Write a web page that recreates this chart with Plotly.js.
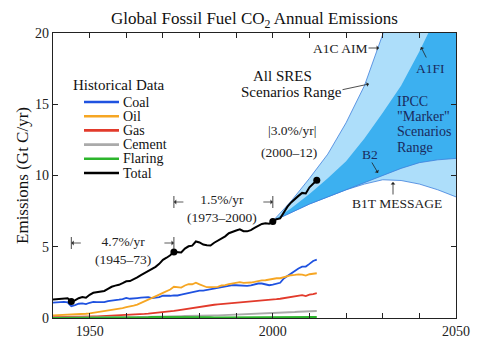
<!DOCTYPE html>
<html><head><meta charset="utf-8">
<script src="https://cdn.plot.ly/plotly-3.0.1.min.js"></script>
<style>html,body{margin:0;padding:0;background:#fff}#chart{width:480px;height:341px}</style>
</head><body><div id="chart"></div>
<script>
// ---------- DATA ----------
const years = [1940,1941,1942,1943,1944,1945,1946,1947,1948,1949,
 1950,1951,1952,1953,1954,1955,1956,1957,1958,1959,
 1960,1961,1962,1963,1964,1965,1966,1967,1968,1969,
 1970,1971,1972,1973,1974,1975,1976,1977,1978,1979,
 1980,1981,1982,1983,1984,1985,1986,1987,1988,1989,
 1990,1991,1992,1993,1994,1995,1996,1997,1998,1999,
 2000,2001,2002,2003,2004,2005,2006,2007,2008,2009,
 2010,2011,2012];
const coal = [1.08,1.10,1.11,1.13,1.10,0.82,0.90,1.00,1.03,0.98,
 1.07,1.13,1.12,1.12,1.11,1.19,1.24,1.27,1.29,1.33,
 1.41,1.35,1.35,1.40,1.43,1.45,1.46,1.40,1.42,1.47,
 1.56,1.54,1.56,1.59,1.58,1.64,1.70,1.75,1.78,1.87,
 1.92,1.92,1.97,2.00,2.09,2.15,2.18,2.22,2.28,2.30,
 2.30,2.28,2.25,2.26,2.29,2.37,2.42,2.42,2.35,2.30,
 2.34,2.40,2.47,2.77,2.96,3.14,3.34,3.48,3.60,3.61,
 3.80,4.00,4.10];
const oil = [0.18,0.19,0.18,0.19,0.21,0.22,0.24,0.26,0.28,0.30,
 0.33,0.37,0.40,0.43,0.46,0.51,0.56,0.60,0.64,0.70,
 0.76,0.80,0.87,0.94,1.05,1.15,1.28,1.40,1.52,1.64,
 1.76,1.87,2.00,2.19,2.16,2.13,2.28,2.37,2.37,2.48,
 2.36,2.24,2.16,2.16,2.19,2.18,2.28,2.30,2.38,2.42,
 2.45,2.51,2.47,2.47,2.49,2.53,2.60,2.64,2.65,2.71,
 2.77,2.79,2.79,2.85,2.96,3.00,3.02,3.06,3.04,2.98,
 3.07,3.10,3.14];
const gas = [0.06,0.06,0.07,0.07,0.08,0.08,0.08,0.09,0.09,0.09,
 0.10,0.11,0.12,0.13,0.14,0.15,0.16,0.18,0.19,0.20,
 0.20,0.21,0.23,0.25,0.27,0.29,0.31,0.33,0.35,0.38,
 0.41,0.44,0.47,0.50,0.54,0.58,0.63,0.68,0.73,0.78,
 0.80,0.82,0.86,0.89,0.93,0.96,0.98,1.02,1.05,1.08,
 1.10,1.12,1.12,1.13,1.14,1.16,1.20,1.20,1.22,1.25,
 1.29,1.32,1.35,1.40,1.44,1.48,1.52,1.56,1.60,1.54,
 1.64,1.68,1.74];
const cement = [0.02,0.02,0.02,0.02,0.02,0.02,0.02,0.02,0.03,0.03,
 0.03,0.03,0.03,0.04,0.04,0.04,0.05,0.05,0.05,0.06,
 0.06,0.06,0.07,0.07,0.08,0.08,0.09,0.09,0.10,0.10,
 0.11,0.12,0.12,0.13,0.13,0.13,0.14,0.15,0.16,0.16,
 0.16,0.16,0.17,0.17,0.18,0.18,0.19,0.19,0.20,0.21,
 0.21,0.22,0.23,0.24,0.25,0.26,0.27,0.28,0.29,0.30,
 0.31,0.32,0.34,0.36,0.38,0.40,0.42,0.44,0.45,0.46,
 0.47,0.48,0.49];
const flaring = [0.01,0.01,0.01,0.01,0.01,0.01,0.01,0.01,0.01,0.01,
 0.02,0.02,0.02,0.02,0.02,0.02,0.03,0.03,0.03,0.03,
 0.04,0.04,0.04,0.05,0.05,0.06,0.06,0.07,0.07,0.08,
 0.09,0.09,0.10,0.11,0.10,0.09,0.10,0.09,0.08,0.08,
 0.07,0.06,0.06,0.06,0.05,0.05,0.05,0.05,0.05,0.05,
 0.05,0.05,0.05,0.05,0.05,0.05,0.06,0.06,0.06,0.06,
 0.06,0.06,0.06,0.06,0.06,0.06,0.06,0.07,0.07,0.07,
 0.07,0.07,0.07];
const total = [1.30,1.33,1.34,1.39,1.38,1.16,1.24,1.39,1.47,1.42,
 1.63,1.77,1.80,1.85,1.90,2.05,2.19,2.27,2.33,2.45,
 2.58,2.59,2.70,2.85,3.01,3.15,3.31,3.41,3.59,3.80,
 4.08,4.23,4.40,4.64,4.62,4.60,4.87,5.03,5.08,5.37,
 5.30,5.15,5.11,5.09,5.28,5.43,5.60,5.73,5.95,6.07,
 6.14,6.22,6.09,6.08,6.17,6.32,6.46,6.60,6.64,6.61,
 6.77,6.93,6.99,7.41,7.81,8.11,8.37,8.57,8.78,8.74,
 9.17,9.45,9.67];
const seriesNames = ['Coal','Oil','Gas','Cement','Flaring','Total'];
const markYears = [1945, 1973, 2000, 2012];

// scenario envelopes
const scenYears   = [2000,2005,2010,2015,2020,2025,2030,2035,2040,2045,2050];
const a1cAim      = [6.8, 8.2, 9.8, 11.5,13.7,16.3,19.9,24.0,28.0,32.0,36.0]; // upper of all SRES
const b1tMessage  = [6.8, 7.4, 8.0, 8.5, 9.0, 9.4, 9.7, 9.65,9.4, 9.0, 8.5];  // lower of all SRES
const a1fi        = [6.8, 7.7, 8.7, 9.8, 11.0,12.6,14.4,16.3,18.7,21.2,24.0]; // upper of markers
const b2          = [6.8, 7.4, 8.0, 8.5, 9.0, 9.5, 10.0,10.5,10.9,11.1,11.2]; // lower of markers

// growth periods
const rateLabels = ['4.7%/yr', '1.5%/yr', '|3.0%/yr|'];
const rateSpans  = ['(1945–73)', '(1973–2000)', '(2000–12)'];

// ---------- STYLE / LAYOUT ----------
const SERIF = '"Liberation Serif", "Times New Roman", Times, serif';
const colors = ['#1f52e0','#f6a623','#e23a2b','#aaaaaa','#2cb52c','#000000'];
const W=480,H=341,M={l:53,r:24,t:33,b:23};
const pw=W-M.l-M.r, ph=H-M.t-M.b;
const PX=(x)=>(x-M.l)/pw, PY=(y)=>(H-M.b-y)/ph;

const edge = '#3d7fdc';
const traces = [
  {x:scenYears,y:b1tMessage,mode:'lines',line:{color:edge,width:0.8},hoverinfo:'skip'},
  {x:scenYears,y:a1cAim,mode:'lines',line:{color:edge,width:0.8},fill:'tonexty',fillcolor:'#addefa',hoverinfo:'skip'},
  {x:scenYears,y:b2,mode:'lines',line:{color:edge,width:0.8},hoverinfo:'skip'},
  {x:scenYears,y:a1fi,mode:'lines',line:{color:edge,width:0},fill:'tonexty',fillcolor:'#3cb0f0',hoverinfo:'skip'}
];
const hist = [coal, oil, gas, cement, flaring, total];
hist.forEach((arr,i)=>{
  traces.push({x:years,y:arr,mode:'lines',name:seriesNames[i],line:{color:colors[i],width:i===5?2:1.8}});
});
traces.push({x:markYears,y:markYears.map(yr=>total[years.indexOf(yr)]),mode:'markers',
  marker:{color:'#000',size:7},hoverinfo:'skip'});

const shapes = [];
const annotations = [];
// manual legend
const legRows = [102,116.2,130.4,144.6,158.8,173];
annotations.push({xref:'paper',yref:'paper',x:PX(71),y:PY(85),xanchor:'left',yanchor:'middle',
  text:'Historical Data',showarrow:false,font:{family:SERIF,size:15,color:'#111'}});
seriesNames.forEach((n,i)=>{
  shapes.push({type:'line',xref:'paper',yref:'paper',x0:PX(84),x1:PX(119),y0:PY(legRows[i]),y1:PY(legRows[i]),
    line:{color:colors[i],width:2.6}});
  annotations.push({xref:'paper',yref:'paper',x:PX(120.5),y:PY(legRows[i]),xanchor:'left',yanchor:'middle',
    text:n,showarrow:false,font:{family:SERIF,size:14,color:'#111'}});
});

// growth-rate brackets
const txtFont = {family:SERIF,size:13.5,color:'#222'};
function bracket(x0,x1,ypx){
  [x0,x1].forEach(xv=>{
    shapes.push({type:'line',xref:'x',yref:'paper',x0:xv,x1:xv,y0:PY(ypx-6),y1:PY(ypx+6),line:{color:'#333',width:0.9}});
  });
  annotations.push({xref:'x',yref:'paper',x:x0,y:PY(ypx),ax:11,ay:0,text:'',showarrow:true,
    arrowhead:1,arrowsize:1,arrowwidth:0.8,arrowcolor:'#333',standoff:0});
  annotations.push({xref:'x',yref:'paper',x:x1,y:PY(ypx),ax:-11,ay:0,text:'',showarrow:true,
    arrowhead:1,arrowsize:1,arrowwidth:0.8,arrowcolor:'#333',standoff:0});
}
bracket(markYears[0],markYears[1],243);
bracket(markYears[1],markYears[2],202);
const rateTxtPos = [[123,250],[222,208]];
[0,1].forEach(i=>{
  const p = rateTxtPos[i];
  annotations.push({xref:'paper',yref:'paper',x:PX(p[0]),y:PY(p[1]),text:rateLabels[i]+'<br>'+rateSpans[i],
    showarrow:false,xanchor:'center',yanchor:'middle',align:'center',font:txtFont});
});
annotations.push({xref:'paper',yref:'paper',x:PX(292),y:PY(130),text:rateLabels[2],showarrow:false,
  xanchor:'center',yanchor:'middle',font:txtFont});
annotations.push({xref:'paper',yref:'paper',x:PX(289),y:PY(152),text:rateSpans[2],showarrow:false,
  xanchor:'center',yanchor:'middle',font:txtFont});

// scenario labels
const navy = '#1a2b5e';
function lab(t,x,y,size,color,anchor){
  annotations.push({xref:'paper',yref:'paper',x:PX(x),y:PY(y),text:t,showarrow:false,
    xanchor:anchor||'center',yanchor:'middle',font:{family:SERIF,size:size,color:color}});
}
function arr(xt,yt,ax,ay){
  annotations.push({xref:'paper',yref:'paper',x:PX(xt),y:PY(yt),ax:ax,ay:ay,text:'',showarrow:true,
    arrowhead:1,arrowsize:1,arrowwidth:0.8,arrowcolor:'#222',standoff:0});
}
lab('A1C AIM',340,48,13.5,'#222');
arr(379,48,-12,0);
lab('All SRES',282,76,15,'#111');
lab('Scenarios Range',291,92,15,'#111');
arr(369,84,-28,6);
lab('A1FI',430,68,13.5,navy);
arr(421,47,6,12);
lab('IPCC',395,101.5,14,navy,'left');
lab('"Marker"',395,116.5,14,navy,'left');
lab('Scenarios',395,131.5,14,navy,'left');
lab('Range',395,147,14,navy,'left');
lab('B2',370,154,13.5,navy);
arr(378,173,-7,-12);
lab('B1T MESSAGE',397,203,13.5,'#222');
arr(393,182,0,14);

const ax = {showline:true,linecolor:'#222',linewidth:1.2,mirror:'ticks',ticks:'inside',ticklen:5,
  tickwidth:1,tickcolor:'#222',showgrid:false,zeroline:false,tickfont:{family:SERIF,size:14,color:'#222'}};
const tickYears = [1940,1950,1960,1970,1980,1990,2000,2010,2020,2030,2040,2050];
const layout = {
  width:W,height:H,margin:M,paper_bgcolor:'#fff',plot_bgcolor:'#fff',showlegend:false,
  title:{text:'Global Fossil Fuel CO<sub>2</sub> Annual Emissions',font:{family:SERIF,size:17,color:'#111'},
    x:0.5,xref:'paper',xanchor:'center',y:1-18/H,yref:'container',yanchor:'middle'},
  xaxis:Object.assign({},ax,{range:[1940,2050],tickmode:'array',tickvals:tickYears,
    ticktext:tickYears.map(v=>v%50===0?String(v):'')}),
  yaxis:Object.assign({},ax,{range:[0,20],tickvals:[0,5,10,15,20],
    title:{text:'Emissions (Gt C/yr)',font:{family:SERIF,size:17,color:'#111'},standoff:2}}),
  shapes:shapes,annotations:annotations
};
Plotly.newPlot('chart',traces,layout,{staticPlot:true,displayModeBar:false});
</script></body></html>
